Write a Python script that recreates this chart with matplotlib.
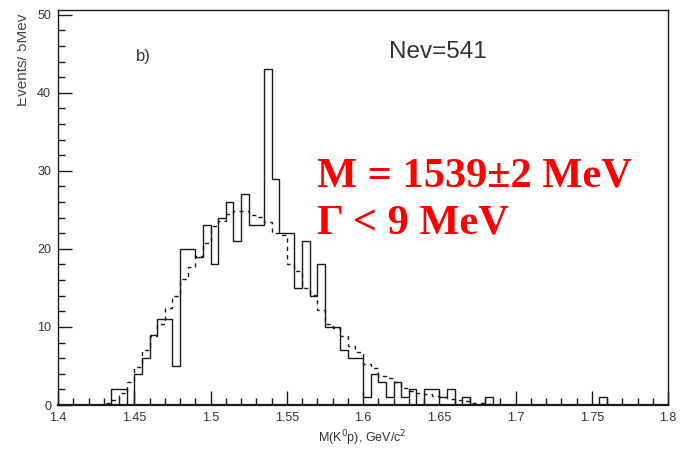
import numpy as np
import matplotlib
matplotlib.use("Agg")
import matplotlib.pyplot as plt
from matplotlib.ticker import MultipleLocator
from matplotlib.transforms import Bbox

# ---- data -------------------------------------------------------------
bin_start = 1.400
bin_width = 0.005

# measured histogram (80 bins, 1.400 ... 1.800)
counts = [0, 0, 0, 0, 0, 0, 0,            # 1.400 - 1.430
          2, 2, 0, 4, 6, 9, 11, 11, 5,     # 1.435 - 1.475
          20, 20, 19, 23, 18, 24, 26, 21, 27,  # 1.480 - 1.520
          23, 23, 43, 29, 22, 22, 15, 21, 14,  # 1.525 - 1.565
          18, 10, 10, 7, 6, 6, 1, 4, 3,        # 1.570 - 1.610
          1, 3, 1, 2, 0, 2, 2, 1, 2,           # 1.615 - 1.655
          0, 1, 0, 0, 1,                       # 1.660 - 1.680
          0, 0, 0, 0, 0, 0, 0, 0, 0, 0, 0, 0, 0, 0,  # 1.685 - 1.750
          1,                                   # 1.755
          0, 0, 0, 0, 0, 0, 0, 0]              # 1.760 - 1.795

# dashed background / fit histogram
fit = [0, 0, 0, 0, 0, 0,                       # 1.400 - 1.425
       0.2, 0.6, 1.5, 3.0, 4.9, 7.0, 8.8, 10.4, 12.4, 14.0,   # 1.430 - 1.475
       16.2, 17.7, 19.1, 20.7, 22.9, 23.6, 24.5, 24.9, 24.8,  # 1.480 - 1.520
       24.4, 24.1, 23.5, 22.0, 21.8, 18.0, 17.2, 15.0, 14.1,  # 1.525 - 1.565
       12.2, 10.4, 9.8, 8.8, 7.6, 6.8, 5.3, 4.7, 3.7,         # 1.570 - 1.610
       3.4, 2.9, 2.2, 1.8, 1.6, 1.4, 1.2, 1.0, 0.8,           # 1.615 - 1.655
       0.6, 0.45, 0.3, 0.2, 0.1,                              # 1.660 - 1.680
       0, 0, 0, 0, 0, 0, 0, 0, 0, 0, 0, 0, 0, 0, 0, 0,
       0, 0, 0, 0, 0, 0, 0]                                   # 1.685 - 1.795

x_ticks = [1.4, 1.45, 1.5, 1.55, 1.6, 1.65, 1.7, 1.75, 1.8]
x_tick_labels = ["1.4", "1.45", "1.5", "1.55", "1.6", "1.65", "1.7", "1.75", "1.8"]
y_ticks = [0, 10, 20, 30, 40, 50]
y_tick_labels = ["0", "10", "20", "30", "40", "50"]

# ---- figure -------------------------------------------------------------
W, H = 681, 450
fig = plt.figure(figsize=(W / 100, H / 100), dpi=100)
fig.patch.set_facecolor("white")
ax = fig.add_axes([58 / W, 45 / H, (668 - 58) / W, (405 - 10) / H])

edges = bin_start + bin_width * np.arange(len(counts) + 1)
line_col = "#1a1a1a"
ax.stairs(counts, edges, color=line_col, lw=1.0, baseline=0)
ax.stairs(fit, edges, color=line_col, lw=1.0, linestyle=(0, (3, 3)), baseline=None)

ax.set_xlim(1.4, 1.8)
ax.set_ylim(0, 50.6)

ax.set_xticks(x_ticks)
ax.set_xticklabels(x_tick_labels)
ax.set_yticks(y_ticks)
ax.set_yticklabels(y_tick_labels)
ax.xaxis.set_minor_locator(MultipleLocator(0.01))
ax.yaxis.set_minor_locator(MultipleLocator(2))

for lab in ax.get_xticklabels() + ax.get_yticklabels():
    lab.set_fontfamily("Liberation Sans")
    lab.set_fontsize(9)
    lab.set_color("#333333")

ax.tick_params(axis="both", which="major", direction="in", length=10, width=1.0,
               color=line_col, top=False, right=False)
ax.tick_params(axis="both", which="minor", direction="in", length=5, width=1.0,
               color=line_col, top=False, right=False)
ax.tick_params(axis="x", which="major", pad=5)
ax.tick_params(axis="y", which="major", pad=5)

for s in ax.spines.values():
    s.set_linewidth(1.0)
    s.set_color(line_col)
ax.spines["bottom"].set_linewidth(1.6)

# ---- text ---------------------------------------------------------------
fig.text(362 / W, 1 - 438 / H, r"M(K$^{0}$p), GeV/c$^{2}$", fontsize=9,
         family="Liberation Sans", color="#333333", ha="center", va="center")

ylab = fig.text(30 / W, 1 - 60 / H, "Events/ 5Mev", rotation=90, ha="right",
                va="center", fontsize=11, family="Liberation Sans", color="#444444")
ylab.set_clip_box(Bbox.from_extents(17, 0, W, H))
ylab.set_clip_on(True)

fig.text(136 / W, 1 - 57 / H, "b)", fontsize=12, family="Liberation Sans",
         color="#333333", va="center", ha="left")
fig.text(389 / W, 1 - 52 / H, "Nev=541", fontsize=17.5, family="Liberation Sans",
         color="#333333", va="center", ha="left")

red_font = dict(family="Liberation Serif", weight="bold", color="#ff0000", fontsize=30.5)
fig.text(317 / W, 1 - 176 / H, "M = 1539\u00b12 MeV", va="center", ha="left", **red_font)
fig.text(317 / W, 1 - 223 / H, "\u0393 < 9 MeV", va="center", ha="left", **red_font)

fig.savefig("out.png", dpi=100)
